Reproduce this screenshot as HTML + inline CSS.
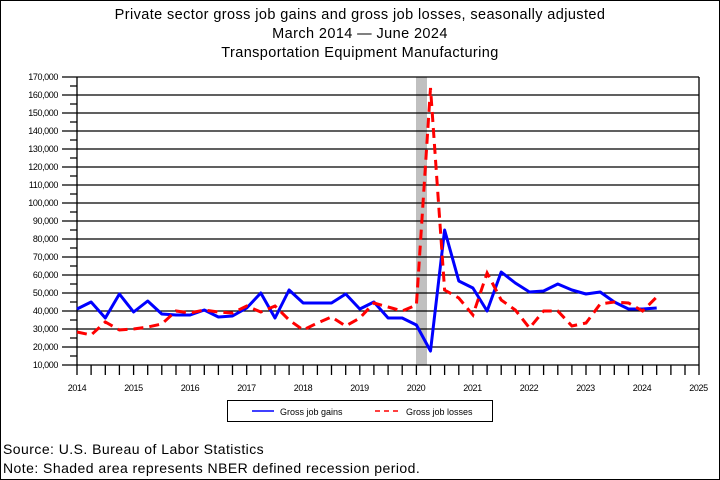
<!DOCTYPE html>
<html><head><meta charset="utf-8"><style>
html,body{margin:0;padding:0;background:#fff}
svg{display:block}
text{font-family:"Liberation Sans",sans-serif}
</style></head><body>
<svg width="720" height="480" viewBox="0 0 720 480" xmlns="http://www.w3.org/2000/svg">
<rect x="0.5" y="0.5" width="719" height="479" fill="#fff" stroke="#000"/>
<g font-size="14.5" text-anchor="middle" fill="#000" letter-spacing="0.4">
<text x="360" y="19">Private sector gross job gains and gross job losses, seasonally adjusted</text>
<text x="360" y="38">March 2014  — June 2024</text>
<text x="360" y="57">Transportation Equipment Manufacturing</text>
</g>
<rect x="416" y="77" width="11" height="288" fill="#c0c0c0"/>
<g stroke="#000" stroke-width="1.3">
<line x1="62" y1="77" x2="699" y2="77"/><line x1="62" y1="95" x2="699" y2="95"/><line x1="62" y1="113" x2="699" y2="113"/><line x1="62" y1="131" x2="699" y2="131"/><line x1="62" y1="149" x2="699" y2="149"/><line x1="62" y1="167" x2="699" y2="167"/><line x1="62" y1="185" x2="699" y2="185"/><line x1="62" y1="203" x2="699" y2="203"/><line x1="62" y1="221" x2="699" y2="221"/><line x1="62" y1="239" x2="699" y2="239"/><line x1="62" y1="257" x2="699" y2="257"/><line x1="62" y1="275" x2="699" y2="275"/><line x1="62" y1="293" x2="699" y2="293"/><line x1="62" y1="311" x2="699" y2="311"/><line x1="62" y1="329" x2="699" y2="329"/><line x1="62" y1="347" x2="699" y2="347"/><line x1="62" y1="365" x2="699" y2="365"/>
<line x1="77" y1="77" x2="77" y2="375"/><line x1="699" y1="77" x2="699" y2="375"/>
</g>
<g stroke="#000" stroke-width="1.3">
<path d="M70 86H77M70 104H77M70 122H77M70 140H77M70 158H77M70 176H77M70 194H77M70 212H77M70 230H77M70 248H77M70 266H77M70 284H77M70 302H77M70 320H77M70 338H77M70 356H77"/>
<path d="M91.1 365V375M105.3 365V375M119.4 365V375M133.6 365V375M147.7 365V375M161.8 365V375M176 365V375M190.1 365V375M204.3 365V375M218.4 365V375M232.5 365V375M246.7 365V375M260.8 365V375M275 365V375M289.1 365V375M303.2 365V375M317.4 365V375M331.5 365V375M345.7 365V375M359.8 365V375M373.9 365V375M388.1 365V375M402.2 365V375M416.4 365V375M430.5 365V375M444.6 365V375M458.8 365V375M472.9 365V375M487.1 365V375M501.2 365V375M515.3 365V375M529.5 365V375M543.6 365V375M557.8 365V375M571.9 365V375M586 365V375M600.2 365V375M614.3 365V375M628.5 365V375M642.6 365V375M656.7 365V375M670.9 365V375M685 365V375"/>
</g>
<g font-size="9" text-anchor="end" fill="#000" letter-spacing="-0.4">
<text x="58" y="80">170,000</text><text x="58" y="98">160,000</text><text x="58" y="116">150,000</text><text x="58" y="134">140,000</text><text x="58" y="152">130,000</text><text x="58" y="170">120,000</text><text x="58" y="188">110,000</text><text x="58" y="206">100,000</text><text x="58" y="224">90,000</text><text x="58" y="242">80,000</text><text x="58" y="260">70,000</text><text x="58" y="278">60,000</text><text x="58" y="296">50,000</text><text x="58" y="314">40,000</text><text x="58" y="332">30,000</text><text x="58" y="350">20,000</text><text x="58" y="368">10,000</text>
</g>
<g font-size="9" text-anchor="middle" fill="#000" letter-spacing="-0.4">
<text x="77" y="391">2014</text><text x="133.5" y="391">2015</text><text x="190" y="391">2016</text><text x="246.5" y="391">2017</text><text x="303" y="391">2018</text><text x="359.5" y="391">2019</text><text x="416" y="391">2020</text><text x="472.5" y="391">2021</text><text x="529" y="391">2022</text><text x="585.5" y="391">2023</text><text x="642" y="391">2024</text><text x="698.5" y="391">2025</text>
</g>
<polyline fill="none" stroke="#0000ff" stroke-width="3" stroke-linejoin="round" points="77,309 91.1,302 105.3,318 119.4,294 133.6,312 147.7,301 161.8,314 176,315 190.1,315 204.3,310 218.4,317 232.5,316 246.7,308 260.8,293 275,318 289.1,290 303.2,303 317.4,303 331.5,303 345.7,294 359.8,309 373.9,302 388.1,318 402.2,318 416.4,325 430.5,351 444.6,230 458.8,281 472.9,288 487.1,311 501.2,272 515.3,283 529.5,292 543.6,291 557.8,284 571.9,290 586,294 600.2,292 614.3,302 628.5,309 642.6,309 656.7,308"/>
<polyline fill="none" stroke="#ff0000" stroke-width="3" stroke-dasharray="10,6" points="77,332 91.1,335 105.3,322 119.4,330 133.6,329 147.7,327 161.8,324 176,311 190.1,313 204.3,310 218.4,312 232.5,313 246.7,306 260.8,312 275,306 289.1,320 303.2,330 317.4,323 331.5,317 345.7,326 359.8,318 373.9,303 388.1,307 402.2,311 416.4,305 430.5,88 444.6,290 458.8,298 472.9,315 487.1,273 501.2,300 515.3,310 529.5,328 543.6,311 557.8,311 571.9,326 586,323 600.2,304 614.3,302 628.5,303 642.6,311 656.7,297"/>
<rect x="227.5" y="400.5" width="265" height="21" fill="#fff" stroke="#000"/>
<line x1="252" y1="411" x2="274" y2="411" stroke="#0000ff" stroke-width="1.5"/>
<line x1="375" y1="411" x2="399" y2="411" stroke="#ff0000" stroke-width="1.5" stroke-dasharray="5,4"/>
<g font-size="9" fill="#000">
<text x="280" y="415">Gross job gains</text>
<text x="406" y="415">Gross job losses</text>
</g>
<g font-size="14" fill="#000" letter-spacing="0.45">
<text x="3" y="454">Source: U.S. Bureau of Labor Statistics</text>
<text x="3" y="473">Note: Shaded area represents NBER defined recession period.</text>
</g>
</svg>
</body></html>
